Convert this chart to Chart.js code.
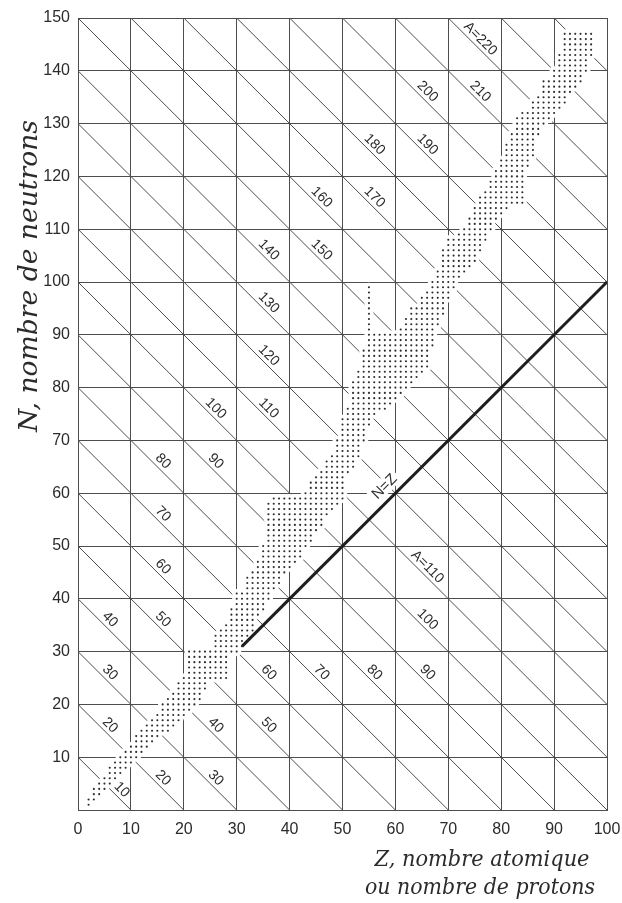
<!DOCTYPE html>
<html>
<head>
<meta charset="utf-8">
<script src="https://cdn.jsdelivr.net/npm/chart.js@4.4.0/dist/chart.umd.min.js"></script>
<style>
  html, body { margin: 0; padding: 0; background: #fff; }
  canvas { display: block; }
</style>
</head>
<body>
<canvas id="chart" width="622" height="903"></canvas>
<script>
// Known nuclides: for each Z, the lowest and highest N of the dotted band
const protonZ = [2, 3, 4, 5, 6, 7, 8, 9, 10, 11, 12, 13, 14, 15, 16, 17, 18, 19, 20, 21,
  22, 23, 24, 25, 26, 27, 28, 29, 30, 31, 32, 33, 34, 35, 36, 37, 38, 39, 40, 41,
  42, 43, 44, 45, 46, 47, 48, 49, 50, 51, 52, 53, 54, 55, 56, 57, 58, 59, 60, 61,
  62, 63, 64, 65, 66, 67, 68, 69, 70, 71, 72, 73, 74, 75, 76, 77, 78, 79, 80, 81,
  82, 83, 84, 85, 86, 87, 88, 89, 90, 91, 92, 93, 94, 95, 96, 97];
const neutronLow = [1, 2, 3, 4, 5, 6, 7, 8, 9, 10, 11, 12, 13, 14, 15, 15, 16, 17, 18, 19,
  20, 21, 23, 25, 25, 25, 25, 30, 30, 31, 32, 34, 37, 38, 40, 42, 43, 45, 46, 47,
  48, 50, 51, 53, 54, 56, 57, 58, 59, 64, 65, 67, 70, 73, 75, 76, 76, 77, 78, 79,
  80, 81, 82, 83, 84, 88, 92, 94, 97, 99, 101, 102, 103, 104, 106, 108, 110, 112, 113, 114,
  115, 115, 115, 122, 124, 128, 130, 131, 132, 133, 134, 136, 137, 138, 140, 143];
const neutronHigh = [2, 4, 5, 6, 8, 9, 10, 11, 12, 14, 15, 16, 17, 18, 20, 21, 22, 24, 25, 30,
  30, 30, 30, 30, 33, 34, 35, 38, 41, 41, 44, 45, 47, 50, 58, 59, 59, 59, 59, 59,
  59, 60, 62, 63, 64, 66, 67, 70, 74, 76, 81, 83, 87, 99, 90, 90, 90, 90, 90, 91,
  93, 95, 95, 97, 98, 100, 102, 106, 108, 108, 109, 110, 112, 114, 116, 117, 119, 121, 123, 126,
  128, 131, 132, 132, 134, 135, 138, 138, 140, 143, 147, 147, 147, 147, 147, 147];

// Lines of constant mass number A = Z + N
const massLines = [10, 20, 30, 40, 50, 60, 70, 80, 90, 100, 110, 120, 130, 140, 150, 160,
  170, 180, 190, 200, 210, 220, 230, 240];

// Labels written along those lines: A value, Z where the label sits, text
const labelA = [10, 20, 20, 30, 30, 40, 40, 50, 50, 60, 60, 70, 70, 80, 80, 90, 90,
  100, 100, 110, 110, 120, 130, 140, 150, 160, 170, 180, 190, 200, 210, 220];
const labelZ = [7.2, 5, 15, 5, 25, 5, 25, 15, 35, 15, 35, 15, 45, 15, 55, 25, 65,
  25, 65, 35, 65, 35, 35, 35, 45, 45, 55, 55, 65, 65, 75, 75];
const labelText = ['10', '20', '20', '30', '30', '40', '40', '50', '50', '60', '60', '70', '70',
  '80', '80', '90', '90', '100', '100', '110', 'A=110', '120', '130', '140', '150', '160',
  '170', '180', '190', '200', '210', 'A=220'];

// N = Z line
const equalLine = [31, 100];

const zMax = 100;
const nMax = 150;
const ink = '#2b2b2b';
const gridInk = '#4d4d4d';

// build the dot list
const nuclides = [];
protonZ.forEach((z, i) => {
  for (let n = neutronLow[i]; n <= neutronHigh[i]; n++) nuclides.push({ x: z, y: n });
});

// one dataset per mass line, clipped to the frame
const diagonalSets = massLines.map((a) => {
  const z0 = Math.max(0, a - nMax);
  const z1 = Math.min(zMax, a);
  return {
    type: 'scatter',
    data: [{ x: z0, y: a - z0 }, { x: z1, y: a - z1 }],
    showLine: true,
    borderColor: gridInk,
    borderWidth: 1,
    pointRadius: 0,
    order: 10,
  };
});

// labels and axis titles
const textPlugin = {
  id: 'textPlugin',
  afterDatasetsDraw(chart) {
    const { ctx, scales: { x, y } } = chart;
    ctx.save();
    ctx.fillStyle = ink;
    ctx.font = '14px "Liberation Sans"';
    ctx.textAlign = 'center';
    ctx.textBaseline = 'alphabetic';
    labelA.forEach((a, i) => {
      const z = labelZ[i];
      ctx.save();
      ctx.translate(x.getPixelForValue(z), y.getPixelForValue(a - z));
      ctx.rotate(Math.PI / 4);
      ctx.fillText(labelText[i], 0, -4);
      ctx.restore();
    });

    // N = Z label, with the crossing diagonal cleared behind it
    ctx.font = '15px "Liberation Sans"';
    ctx.save();
    ctx.translate(x.getPixelForValue(59.6), y.getPixelForValue(59.6));
    ctx.rotate(-Math.PI / 4);
    const w = ctx.measureText('N=Z').width;
    ctx.fillStyle = '#ffffff';
    ctx.fillRect(-w / 2 - 3, -21, w + 6, 16);
    ctx.fillStyle = ink;
    ctx.fillText('N=Z', 0, -8);
    ctx.restore();
    ctx.restore();
  },
  afterDraw(chart) {
    const { ctx } = chart;
    const stretched = (text, cx, cy, width, angle) => {
      ctx.save();
      ctx.translate(cx, cy);
      ctx.rotate(angle);
      const w = ctx.measureText(text).width;
      ctx.scale(width / w, 1);
      ctx.fillText(text, 0, 0);
      ctx.restore();
    };
    ctx.save();
    ctx.fillStyle = ink;
    ctx.textAlign = 'center';
    ctx.textBaseline = 'alphabetic';
    ctx.font = 'italic 26px "DejaVu Serif"';
    stretched('N, nombre de neutrons', 37, 276, 312, -Math.PI / 2);
    ctx.font = 'italic 22px "DejaVu Serif"';
    stretched('Z, nombre atomique', 482, 866, 215, 0);
    stretched('ou nombre de protons', 480, 894, 230, 0);
    ctx.restore();
  },
};

const tickFont = { family: 'Liberation Sans', size: 16 };

new Chart(document.getElementById('chart'), {
  type: 'scatter',
  data: {
    datasets: [
      ...diagonalSets,
      {
        // white clearing behind the band, breaks the grid lines there
        data: nuclides,
        pointRadius: 4.6,
        pointBackgroundColor: '#ffffff',
        pointBorderWidth: 0,
        order: 5,
      },
      {
        data: nuclides,
        pointRadius: 1.05,
        pointBackgroundColor: ink,
        pointBorderWidth: 0,
        order: 2,
      },
      {
        data: equalLine.map((v) => ({ x: v, y: v })),
        showLine: true,
        borderColor: '#1e1e1e',
        borderWidth: 3,
        pointRadius: 0,
        order: 1,
      },
    ],
  },
  options: {
    responsive: false,
    animation: false,
    devicePixelRatio: 1,
    layout: { padding: { left: 0, right: 15, top: 18, bottom: 0 } },
    plugins: { legend: { display: false }, tooltip: { enabled: false } },
    scales: {
      x: {
        type: 'linear',
        min: 0,
        max: zMax,
        ticks: { stepSize: 10, padding: 10, color: ink, font: tickFont, maxRotation: 0, autoSkip: false },
        grid: { color: gridInk, lineWidth: 1, drawTicks: false },
        border: { color: gridInk, width: 1 },
        afterFit(scale) {
          scale.height = 93;
          scale.paddingLeft = 0;
          scale.paddingRight = 0;
        },
      },
      y: {
        type: 'linear',
        min: 0,
        max: nMax,
        ticks: {
          stepSize: 10, padding: 8, color: ink, font: tickFont, autoSkip: false,
          callback: (v) => (v === 0 ? '' : v),
        },
        grid: { color: gridInk, lineWidth: 1, drawTicks: false },
        border: { color: gridInk, width: 1 },
        afterFit(scale) {
          scale.width = 78;
          scale.paddingTop = 0;
          scale.paddingBottom = 0;
        },
      },
    },
  },
  plugins: [textPlugin],
});
</script>
</body>
</html>
